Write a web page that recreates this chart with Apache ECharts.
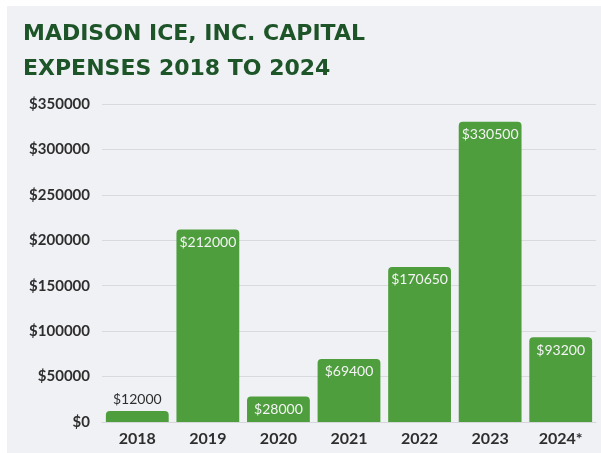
<!DOCTYPE html>
<html><head><meta charset="utf-8">
<script src="https://cdn.jsdelivr.net/npm/echarts@6/dist/echarts.min.js"></script>
<style>html,body{margin:0;padding:0;background:#fff;}#c{position:absolute;left:7px;top:6px;width:594px;height:447px;background:#F0F1F5;}</style>
</head><body><div id="c"></div>
<script>
const categories = ['2018','2019','2020','2021','2022','2023','2024*'];
const expenses = [12000, 212000, 28000, 69400, 170650, 330500, 93200];
const yTicks = [0, 50000, 100000, 150000, 200000, 250000, 300000, 350000];
const titleLines = ['MADISON ICE, INC. CAPITAL', 'EXPENSES 2018 TO 2024'];

const chart = echarts.init(document.getElementById('c'));
chart.setOption({
  backgroundColor: '#F0F1F5',
  title: {
    text: titleLines.join('\n'), left: 16, top: 11, padding: 0,
    textStyle: {fontFamily: 'DejaVu Sans', fontWeight: 'bold', fontSize: 22, color: '#1D5529', lineHeight: 35}
  },
  grid: {left: 95, right: 5, top: 98, bottom: 31},
  xAxis: {
    type: 'category', data: categories,
    axisLine: {show: true, lineStyle: {color: '#D6D7DB'}}, axisTick: {show: false},
    axisLabel: {fontFamily: 'Lato', fontWeight: 'bold', fontSize: 16, color: '#2E2E2E', margin: 9}
  },
  yAxis: {
    type: 'value', min: yTicks[0], max: yTicks[yTicks.length-1], interval: 50000,
    axisLine: {show: false}, axisTick: {show: false},
    splitLine: {lineStyle: {color: '#D9DADE', width: 1}},
    axisLabel: {fontFamily: 'Lato', fontWeight: 'bold', fontSize: 15, color: '#2E2E2E', margin: 12,
      formatter: v => '$' + v}
  },
  series: [{
    type: 'bar', data: expenses.map((v, i) => ({
      value: v,
      label: i === 0 ? {position: 'top', color: '#2E2E2E', distance: 5} : {position: 'insideTop', color: '#F4F4F4', distance: 6}
    })),
    barCategoryGap: '11%',
    itemStyle: {color: '#4E9E3E', borderRadius: [4, 4, 0, 0]},
    label: {show: true, fontFamily: 'Lato', fontSize: 14, fontWeight: 'normal', formatter: p => '$' + p.value}
  }]
});
</script></body></html>
